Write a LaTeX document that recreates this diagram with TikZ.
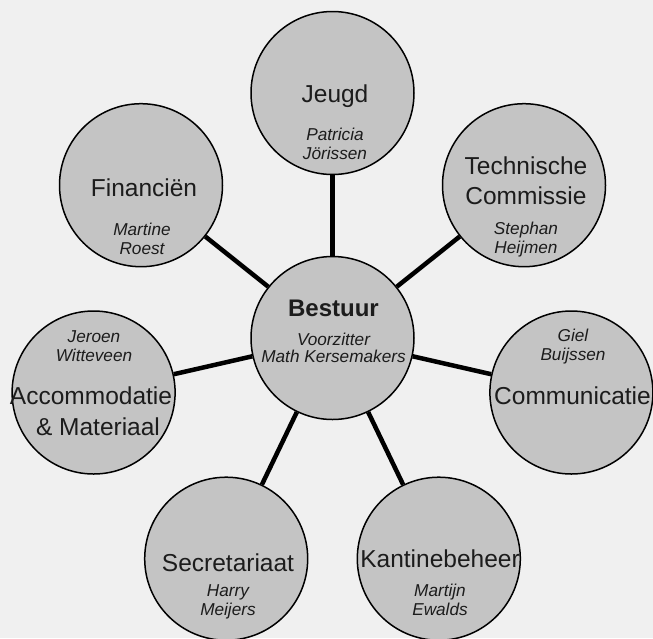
\documentclass[tikz,border=0pt]{standalone}
\usepackage{fontspec}
\setmainfont{Liberation Sans}
\definecolor{bgc}{HTML}{F0F0F0}
\definecolor{cfill}{HTML}{C4C4C4}
\definecolor{txt}{HTML}{1C1C1C}
\begin{document}
\begin{tikzpicture}[x=1pt,y=-1pt,
  unit/.style={circle,draw=black,line width=1.5pt,fill=cfill,minimum size=163pt,inner sep=0pt},
  link/.style={line width=4.5pt,draw=black},
  title/.style={text=txt,align=center,inner sep=0pt,font=\fontsize{24.5}{30.5}\selectfont},
  who/.style={text=txt,align=center,inner sep=0pt,font=\fontsize{17.2}{19}\selectfont\itshape}]
\fill[bgc] (0,0) rectangle (653,638);
\useasboundingbox (0,0) rectangle (653,638);
% circles
\node[unit] (bestuur) at (332.5,338) {};
\node[unit] (jeugd) at (332.5,93) {};
\node[unit] (tech) at (524,185.2) {};
\node[unit] (comm) at (571.4,392.5) {};
\node[unit] (kant) at (438.8,558.7) {};
\node[unit] (secr) at (226.2,558.7) {};
\node[unit] (accom) at (93.6,392.5) {};
\node[unit] (fin) at (141,185.2) {};
% connectors
\foreach \n in {jeugd,tech,comm,kant,secr,accom,fin}
  \draw[link] (bestuur) -- (\n);
% texts
\node[title,font=\fontsize{24}{30}\selectfont\bfseries] (tbestuur) at (333.5,308) {Bestuur};
\node[who,font=\fontsize{17.2}{17}\selectfont\itshape] (wbestuur) at (333.5,347.5) {Voorzitter\\Math Kersemakers};
\node[title] (tjeugd) at (335,96) {Jeugd};
\node[who] (wjeugd) at (335,143.5) {Patricia\\Jörissen};
\node[title] (ttech) at (526,180.5) {Technische\\Commissie};
\node[who] (wtech) at (526,239.5) {Stephan\\Heijmen};
\node[title] (tcomm) at (572.5,396) {Communicatie};
\node[who] (wcomm) at (573,346.5) {Giel\\Buijssen};
\node[title] (tkant) at (440,559) {Kantinebeheer};
\node[who] (wkant) at (440,599.5) {Martijn\\Ewalds};
\node[title] (tsecr) at (228,563) {Secretariaat};
\node[who] (wsecr) at (228,601.5) {Harry\\Meijers};
\node[title] (taccom) at (91,411) {Accommodatie\\\hspace*{14pt}\& Materiaal};
\node[who] (waccom) at (94,346.5) {Jeroen\\Witteveen};
\node[title] (tfin) at (144,188) {Financiën};
\node[who] (wfin) at (142,238.5) {Martine\\Roest};
\end{tikzpicture}
\end{document}
